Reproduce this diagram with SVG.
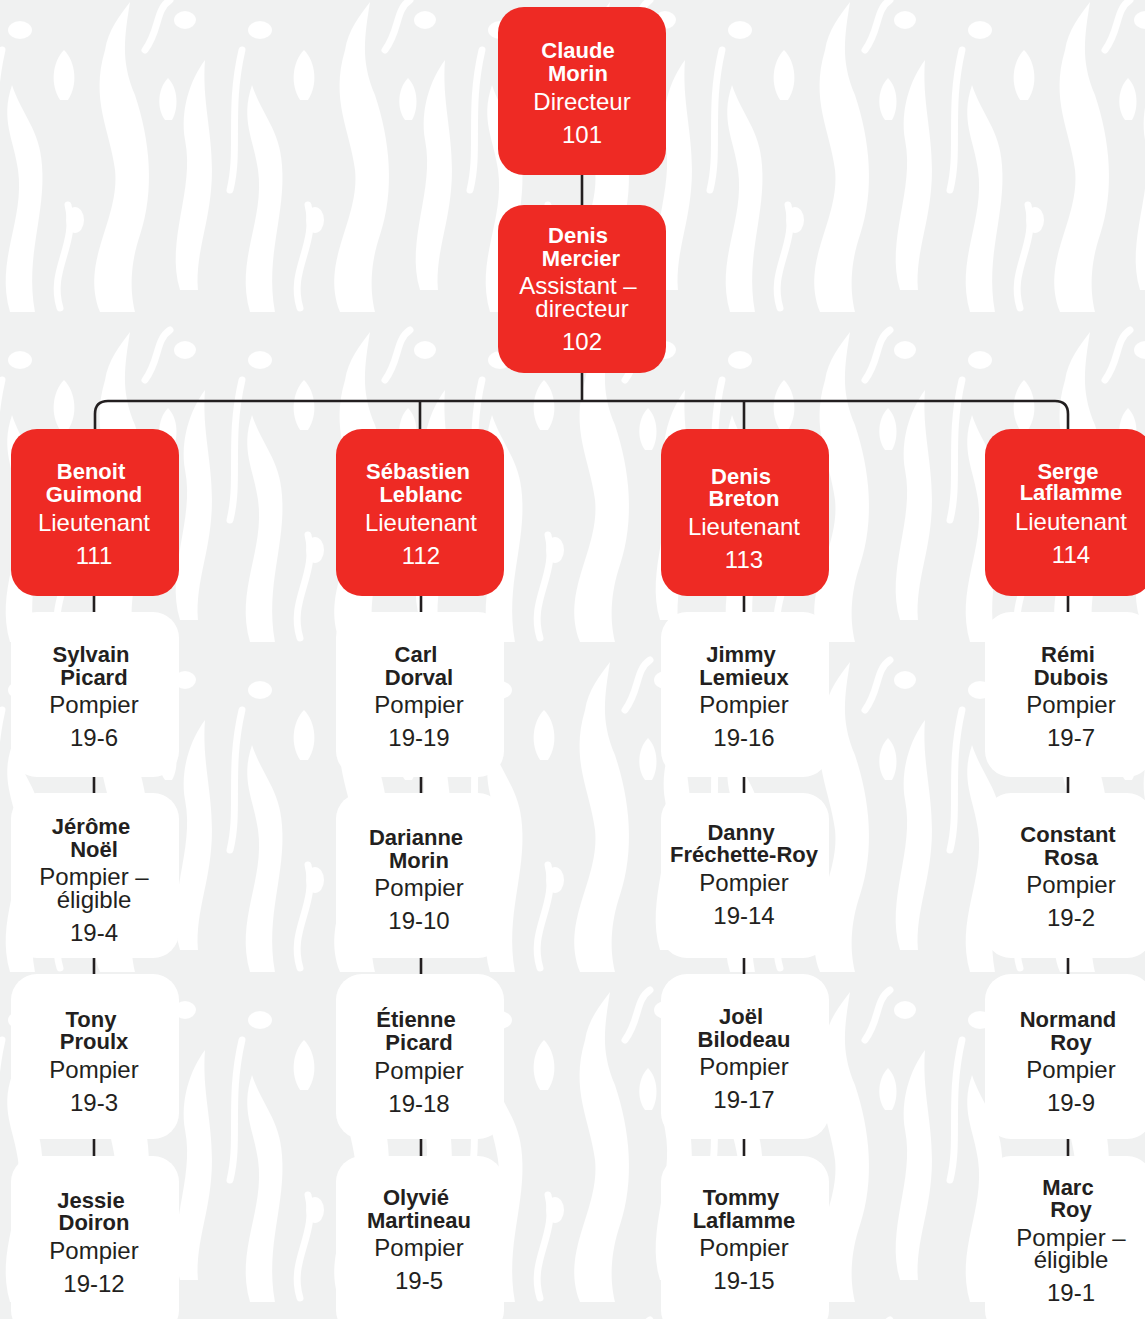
<svg xmlns="http://www.w3.org/2000/svg" width="1145" height="1319" viewBox="0 0 1145 1319">
<style>
.red{fill:#ee2a24}
.wht{fill:#ffffff}
.t{font-family:"Liberation Sans",Arial,sans-serif;text-anchor:middle}
.nw{font-weight:bold;font-size:22px;fill:#ffffff}
.rw{font-size:24px;fill:#ffffff}
.nd{font-weight:bold;font-size:22px;fill:#231f20}
.rd{font-size:24px;fill:#231f20}
.ln{fill:none;stroke:#231f20;stroke-width:2.6}
.fl{fill:#ffffff}
.fs{fill:none;stroke:#ffffff;stroke-width:7;stroke-linecap:round}
</style>
<defs>
<pattern id="flames" patternUnits="userSpaceOnUse" width="240" height="330" x="-20" y="-10">
<rect width="240" height="330" fill="#f0f1f1"/>
<path class="fl" d="M30,322 C15,270 45,230 38,180 C34,150 20,130 32,95 C42,125 60,140 62,175 C66,225 45,265 55,322 Z"/>
<path class="fl" d="M120,322 C100,270 140,230 135,180 C130,140 110,110 125,60 C128,40 140,25 150,12 C145,45 140,70 155,105 C170,150 175,200 160,245 C150,275 150,300 155,322 Z"/>
<path class="fl" d="M200,300 C185,250 215,200 205,150 C200,120 210,90 225,70 C222,110 232,140 232,180 C232,230 215,260 218,300 Z"/>
<path class="fl" d="M80,110 C70,95 72,72 84,60 C96,72 98,95 88,110 Z"/>
<path class="fl" d="M185,130 C176,118 178,98 188,88 C198,98 199,118 192,130 Z"/>
<ellipse class="fl" cx="40" cy="40" rx="12" ry="9"/>
<ellipse class="fl" cx="205" cy="30" rx="11" ry="9"/>
<ellipse class="fl" cx="95" cy="230" rx="9" ry="13"/>
<path class="fs" d="M80,318 C68,280 98,255 88,215"/>
<path class="fs" d="M10,200 C20,160 8,120 22,60"/>
<path class="fs" d="M165,60 C180,40 175,20 190,10"/>
</pattern>
</defs>
<rect x="0" y="0" width="1145" height="1319" fill="url(#flames)"/>

<g id="connectors">
<path class="ln" d="M582,170 V210"/>
<path class="ln" d="M582,368 V401"/>
<path class="ln" d="M95,431 V414 Q95,401 108,401 H1055 Q1068,401 1068,414 V431"/>
<path class="ln" d="M420,401 V431"/>
<path class="ln" d="M744,401 V431"/>
<path class="ln" d="M94,592 V1319"/>
<path class="ln" d="M421,592 V1319"/>
<path class="ln" d="M744,592 V1319"/>
<path class="ln" d="M1068,592 V1319"/>
</g>

<g id="n101"><rect class="red" x="498" y="7" width="168" height="168" rx="26"/>
<text class="t nw" x="578" y="58">Claude</text><text class="t nw" x="578" y="81">Morin</text>
<text class="t rw" x="582" y="110">Directeur</text><text class="t rw" x="582" y="143">101</text></g>

<g id="n102"><rect class="red" x="498" y="205" width="168" height="168" rx="26"/>
<text class="t nw" x="578" y="243">Denis</text><text class="t nw" x="581" y="266">Mercier</text>
<text class="t rw" x="578" y="294">Assistant –</text><text class="t rw" x="582" y="317">directeur</text>
<text class="t rw" x="582" y="350">102</text></g>

<g id="n111"><rect class="red" x="11" y="429" width="168" height="167" rx="26"/>
<text class="t nw" x="91" y="479">Benoit</text><text class="t nw" x="94" y="502">Guimond</text>
<text class="t rw" x="94" y="531">Lieutenant</text><text class="t rw" x="94" y="564">111</text></g>

<g id="n112"><rect class="red" x="336" y="429" width="168" height="167" rx="26"/>
<text class="t nw" x="418" y="479">Sébastien</text><text class="t nw" x="421" y="502">Leblanc</text>
<text class="t rw" x="421" y="531">Lieutenant</text><text class="t rw" x="421" y="564">112</text></g>

<g id="n113"><rect class="red" x="661" y="429" width="168" height="167" rx="26"/>
<text class="t nw" x="741" y="484">Denis</text><text class="t nw" x="744" y="506">Breton</text>
<text class="t rw" x="744" y="535">Lieutenant</text><text class="t rw" x="744" y="568">113</text></g>

<g id="n114"><rect class="red" x="985" y="429" width="168" height="167" rx="26"/>
<text class="t nw" x="1068" y="479">Serge</text><text class="t nw" x="1071" y="500">Laflamme</text>
<text class="t rw" x="1071" y="530">Lieutenant</text><text class="t rw" x="1071" y="563">114</text></g>

<!-- Column 1 -->
<g id="n19-6"><rect class="wht" x="11" y="612" width="168" height="165" rx="26"/>
<text class="t nd" x="91" y="662">Sylvain</text><text class="t nd" x="94" y="685">Picard</text>
<text class="t rd" x="94" y="713">Pompier</text><text class="t rd" x="94" y="746">19-6</text></g>
<g id="n19-4"><rect class="wht" x="11" y="793" width="168" height="165" rx="26"/>
<text class="t nd" x="91" y="834">Jérôme</text><text class="t nd" x="94" y="857">Noël</text>
<text class="t rd" x="94" y="885">Pompier –</text><text class="t rd" x="94" y="908">éligible</text>
<text class="t rd" x="94" y="941">19-4</text></g>
<g id="n19-3"><rect class="wht" x="11" y="974" width="168" height="165" rx="26"/>
<text class="t nd" x="91" y="1027">Tony</text><text class="t nd" x="94" y="1049">Proulx</text>
<text class="t rd" x="94" y="1078">Pompier</text><text class="t rd" x="94" y="1111">19-3</text></g>
<g id="n19-12"><rect class="wht" x="11" y="1156" width="168" height="180" rx="26"/>
<text class="t nd" x="91" y="1208">Jessie</text><text class="t nd" x="94" y="1230">Doiron</text>
<text class="t rd" x="94" y="1259">Pompier</text><text class="t rd" x="94" y="1292">19-12</text></g>

<!-- Column 2 -->
<g id="n19-19"><rect class="wht" x="336" y="612" width="168" height="165" rx="26"/>
<text class="t nd" x="416" y="662">Carl</text><text class="t nd" x="419" y="685">Dorval</text>
<text class="t rd" x="419" y="713">Pompier</text><text class="t rd" x="419" y="746">19-19</text></g>
<g id="n19-10"><rect class="wht" x="336" y="793" width="168" height="165" rx="26"/>
<text class="t nd" x="416" y="845">Darianne</text><text class="t nd" x="419" y="868">Morin</text>
<text class="t rd" x="419" y="896">Pompier</text><text class="t rd" x="419" y="929">19-10</text></g>
<g id="n19-18"><rect class="wht" x="336" y="974" width="168" height="165" rx="26"/>
<text class="t nd" x="416" y="1027">Étienne</text><text class="t nd" x="419" y="1050">Picard</text>
<text class="t rd" x="419" y="1079">Pompier</text><text class="t rd" x="419" y="1112">19-18</text></g>
<g id="n19-5"><rect class="wht" x="336" y="1156" width="168" height="180" rx="26"/>
<text class="t nd" x="416" y="1205">Olyvié</text><text class="t nd" x="419" y="1228">Martineau</text>
<text class="t rd" x="419" y="1256">Pompier</text><text class="t rd" x="419" y="1289">19-5</text></g>

<!-- Column 3 -->
<g id="n19-16"><rect class="wht" x="661" y="612" width="168" height="165" rx="26"/>
<text class="t nd" x="741" y="662">Jimmy</text><text class="t nd" x="744" y="685">Lemieux</text>
<text class="t rd" x="744" y="713">Pompier</text><text class="t rd" x="744" y="746">19-16</text></g>
<g id="n19-14"><rect class="wht" x="661" y="793" width="168" height="165" rx="26"/>
<text class="t nd" x="741" y="840">Danny</text><text class="t nd" x="744" y="862">Fréchette-Roy</text>
<text class="t rd" x="744" y="891">Pompier</text><text class="t rd" x="744" y="924">19-14</text></g>
<g id="n19-17"><rect class="wht" x="661" y="974" width="168" height="165" rx="26"/>
<text class="t nd" x="741" y="1024">Joël</text><text class="t nd" x="744" y="1047">Bilodeau</text>
<text class="t rd" x="744" y="1075">Pompier</text><text class="t rd" x="744" y="1108">19-17</text></g>
<g id="n19-15"><rect class="wht" x="661" y="1156" width="168" height="180" rx="26"/>
<text class="t nd" x="741" y="1205">Tommy</text><text class="t nd" x="744" y="1228">Laflamme</text>
<text class="t rd" x="744" y="1256">Pompier</text><text class="t rd" x="744" y="1289">19-15</text></g>

<!-- Column 4 -->
<g id="n19-7"><rect class="wht" x="985" y="612" width="168" height="165" rx="26"/>
<text class="t nd" x="1068" y="662">Rémi</text><text class="t nd" x="1071" y="685">Dubois</text>
<text class="t rd" x="1071" y="713">Pompier</text><text class="t rd" x="1071" y="746">19-7</text></g>
<g id="n19-2"><rect class="wht" x="985" y="793" width="168" height="165" rx="26"/>
<text class="t nd" x="1068" y="842">Constant</text><text class="t nd" x="1071" y="865">Rosa</text>
<text class="t rd" x="1071" y="893">Pompier</text><text class="t rd" x="1071" y="926">19-2</text></g>
<g id="n19-9"><rect class="wht" x="985" y="974" width="168" height="165" rx="26"/>
<text class="t nd" x="1068" y="1027">Normand</text><text class="t nd" x="1071" y="1050">Roy</text>
<text class="t rd" x="1071" y="1078">Pompier</text><text class="t rd" x="1071" y="1111">19-9</text></g>
<g id="n19-1"><rect class="wht" x="985" y="1156" width="168" height="180" rx="26"/>
<text class="t nd" x="1068" y="1195">Marc</text><text class="t nd" x="1071" y="1217">Roy</text>
<text class="t rd" x="1071" y="1246">Pompier –</text><text class="t rd" x="1071" y="1268">éligible</text>
<text class="t rd" x="1071" y="1301">19-1</text></g>
</svg>
